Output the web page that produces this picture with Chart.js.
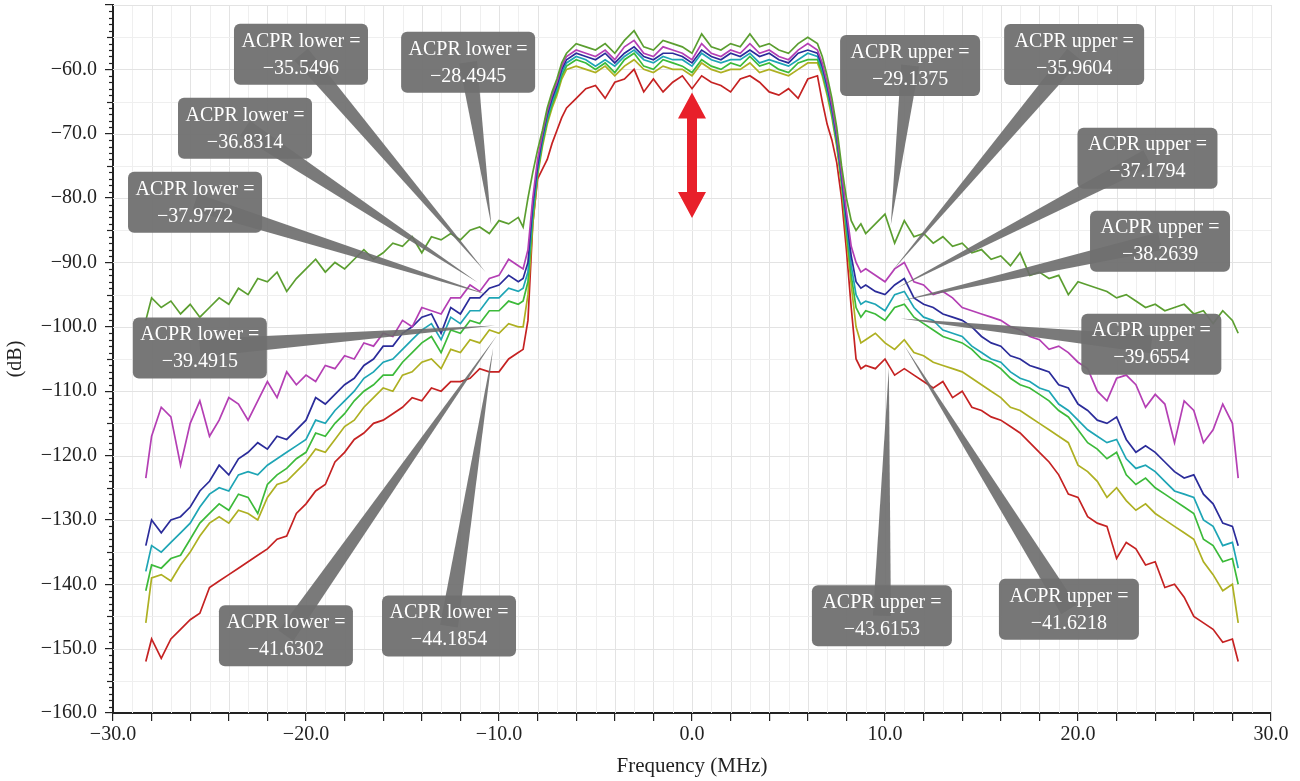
<!DOCTYPE html>
<html>
<head>
<meta charset="utf-8">
<script src="https://cdn.jsdelivr.net/npm/chart.js@4.4.0/dist/chart.umd.min.js"></script>
<style>
  html, body { margin: 0; padding: 0; background: #fff; }
  #wrap { width: 1300px; height: 781px; }
</style>
</head>
<body>
<div id="wrap"><canvas id="acpr" width="1300" height="781"></canvas></div>
<script>
// frequency points (MHz)
var freq = [
  -28.3, -28, -27.5, -27, -26.5, -26, -25.5, -25, -24.5, -24, -23.5, -23, -22.5, -22, -21.5, -21, -20.5, -20, -19.5, -19,
  -18.5, -18, -17.5, -17, -16.5, -16, -15.5, -15, -14.5, -14, -13.5, -13, -12.5, -12, -11.5, -11, -10.5, -10, -9.5, -9,
  -8.75, -8.5,
  -8.25, -8, -7.75, -7.5, -7.25, -7, -6.75, -6.5,
  -6, -5.5, -5, -4.5, -4, -3.5, -3, -2.5, -2, -1.5, -1, -0.5, 0, 0.5, 1, 1.5, 2, 2.5, 3, 3.5, 4, 4.5, 5, 5.5, 6,
  6.5, 6.75, 7, 7.25, 7.5, 7.75, 8, 8.25, 8.5, 8.75,
  9, 9.5, 10, 10.5, 11, 11.5, 12, 12.5, 13, 13.5, 14, 14.5, 15, 15.5, 16, 16.5, 17, 17.5, 18, 18.5,
  19, 19.5, 20, 20.5, 21, 21.5, 22, 22.5, 23, 23.5, 24, 24.5, 25, 25.5, 26, 26.5, 27, 27.5, 28, 28.3
];

// spectra (dB), top to bottom
var greenTop = [
  -99, -95.5, -97, -96, -98, -96.5, -98.5, -97, -95.5, -96.5, -94, -95, -92.5, -93, -91.5, -94.5, -92.5, -91, -89.5, -91.5,
  -90, -91, -89.5, -88, -89.5, -88.5, -87, -87.5, -86, -88.5, -86, -86.5, -85.5, -86.5, -85, -84.5, -85.5, -83.5, -84, -83,
  -84.5, -80,
  -76, -72.5, -69.5, -66, -63.5, -61.5, -59, -57.5,
  -56, -56.5, -57, -56, -57.5, -55.5, -54, -56.5, -57, -55.5, -56, -56.5, -57.5, -54.5, -56.5, -57, -56, -56.5, -54.5, -56.5, -56, -57, -57.5, -56, -55,
  -56, -58, -61, -64.5, -69, -75, -80, -83.5, -85, -84,
  -85.5, -84, -82.5, -87, -83.5, -86, -85.5, -87, -86, -87.5, -87, -88.5, -88, -89.5, -89, -90.5, -88.5, -92, -91.5, -92.5,
  -92, -95, -93, -93.5, -94, -94.5, -95.5, -95, -96, -97, -96.5, -97.5, -97, -96.5, -98, -97.5, -99.5, -97.5, -99, -101
];
var magenta = [
  -123.5, -117, -112.5, -114, -121.5, -115, -111.5, -117, -114.5, -111, -112, -114.5, -111.5, -108.5, -111, -107, -109, -107.5, -108.5, -106,
  -106.5, -104.5, -105, -102.5, -103, -101, -101.5, -99, -100, -97, -97.5, -98, -95.5, -95.5, -93.5, -94.5, -92.5, -92, -89.5, -90.5,
  -91, -88,
  -80, -74, -70, -66.5, -64, -62, -59.5, -58,
  -57, -57.5, -58, -57, -58.5, -56.5, -55.5, -57.5, -58, -56.5, -57, -57.5, -58.5, -56, -57.5, -58, -57, -57.5, -56, -57.5, -57, -58, -58.5, -57, -56,
  -57, -59, -62, -65.5, -70, -76, -82, -87.5, -90, -91.5,
  -91, -92, -93, -91, -90, -93, -93.5, -95, -94.5, -95.5, -97, -97.5, -98, -98.5, -99, -100, -100.5, -101.5, -102, -103.5,
  -103, -104, -105.5, -106.5, -110, -111.5, -108, -107.5, -109, -112.5, -110.5, -112, -118, -111.5, -113, -118, -116, -112, -115, -123.5
];
var blue = [
  -134, -130, -132, -130, -129.5, -128, -125.5, -124, -121.5, -123, -120.5, -119.5, -118, -119, -117, -117.5, -116, -114.5, -111, -112,
  -110.5, -109, -108, -106, -105, -103, -103, -101, -100, -98.5, -98, -101, -97, -98, -95.5, -95.5, -94, -93.5, -92, -93,
  -92.5, -90,
  -81, -75, -70.5, -67, -64.5, -62.5, -60, -58.5,
  -57.5, -58, -58.5, -57.5, -59, -57.5, -56.5, -58, -58.5, -57.5, -57.5, -58, -59, -57, -58, -58.5, -57.5, -58, -57, -58, -57.5, -58.5, -59, -57.5, -57,
  -57.5, -59.5, -62.5, -66, -70.5, -76.5, -83, -89, -93, -94,
  -93.5, -94.5, -95, -93.5, -92.5, -95.5, -96.5, -97, -98, -98.5, -99, -100, -101.5, -102.5, -103, -104.5, -105, -106, -106.5, -107,
  -109, -109.5, -112, -113, -114.5, -115, -114, -117.5, -119.5, -118.5, -119.5, -121, -122.5, -123.5, -123, -126, -127.5, -130.5, -131, -134
];
var cyan = [
  -138, -134, -135, -133.5, -132, -130.5, -128, -126, -125, -125.5, -123, -122.5, -123, -121.5, -120.5, -119.5, -118.5, -117.5, -114.5, -115,
  -113, -111.5, -110, -108, -107, -105.5, -105, -103.5, -102, -100.5, -99.5, -102, -98.5, -99.5, -97.5, -97.5, -95.5, -95.5, -94, -94.5,
  -94, -91.5,
  -82, -75.5, -71, -67.5, -65, -63, -60.5, -59,
  -58, -58.5, -59.5, -58.5, -59.5, -58, -57, -58.5, -59, -58, -58.5, -58.5, -59.5, -57.5, -58.5, -59, -58.5, -58.5, -57.5, -59, -58.5, -59, -59.5, -58.5, -57.5,
  -58, -60, -63, -66.5, -71, -77, -84, -90.5, -95, -96.5,
  -96, -96.5, -97.5, -95, -94.5, -97, -98.5, -99, -100.5, -101, -101.5, -103, -104, -105, -105.5, -107, -108, -108.5, -109.5, -110,
  -112, -113, -114.5, -116, -117, -118, -117.5, -120.5, -122, -121.5, -122.5, -124, -125.5, -126, -126.5, -130, -131, -134, -133.5, -137.5
];
var green = [
  -141, -137, -137.5, -136, -135.5, -133, -130.5, -129, -127.5, -128.5, -126, -126.5, -129, -124.5, -123, -122, -120.5, -119.5, -116.5, -117,
  -115, -113.5, -111.5, -110, -109, -107.5, -107.5, -105.5, -104, -102.5, -101.5, -104, -100.5, -101, -99, -99.5, -97.5, -97.5, -96, -96.5,
  -96, -93,
  -83, -76, -71.5, -68, -65.5, -63.5, -61, -59.5,
  -58.5, -59, -60, -59, -60.5, -58.5, -57.5, -59.5, -60, -58.5, -59, -59.5, -60.5, -58.5, -59.5, -60, -59, -59.5, -58, -59.5, -59, -60, -60.5, -59, -58.5,
  -58.5, -60.5, -63.5, -67, -71.5, -77.5, -85, -92, -97, -98.5,
  -97.5, -98, -99, -97, -96.5, -98.5, -99.5, -100.5, -101.5, -102, -102.5, -103.5, -105, -105.5, -106.5, -108, -109, -109.5, -110.5, -111.5,
  -113, -114, -116, -118, -119, -120.5, -119.5, -123, -124.5, -123.5, -125, -126, -127, -128, -129, -133, -134, -136.5, -136, -140
];
var yellow = [
  -146, -139, -138.5, -139.5, -137, -135, -132.5, -130.5, -129.5, -130.5, -128.5, -129, -130, -126.5, -124.5, -124, -122.5, -121, -119, -119.5,
  -117.5, -115.5, -114.5, -112.5, -111, -109.5, -110, -107.5, -107, -105.5, -105, -106.5, -103.5, -104, -102, -102.5, -100.5, -101, -99.5, -100,
  -100, -95,
  -84, -76.5, -72, -68.5, -66, -64, -61.5, -60,
  -59.5, -60, -60.5, -59.5, -61, -59.5, -58.5, -60, -60.5, -59.5, -60, -60, -61, -59, -60, -60.5, -60, -60, -59, -60.5, -60, -60.5, -61, -60, -59,
  -59, -61, -64, -67.5, -72, -78, -86, -93.5, -100, -102.5,
  -102, -101, -102.5, -103.5, -102, -104, -104.5, -105.5, -106, -106.5, -107, -108, -109, -110, -111, -112.5, -113, -114, -115, -116,
  -117, -118, -121.5, -122.5, -124, -126.5, -125, -127, -128.5, -127.5, -129, -130, -131, -132, -133, -136.5, -138.5, -141, -140, -146
];
var red = [
  -152, -148.5, -151.5, -148.5, -147, -145.5, -144.5, -140.5, -139.5, -138.5, -137.5, -136.5, -135.5, -134.5, -133, -132.5, -129, -127.5, -125.5, -124.5,
  -121, -119.5, -117.5, -116.5, -115, -114.5, -113.5, -112.5, -111, -111.5, -109.5, -110, -108.5, -108.5, -108, -106.5, -107, -107, -105, -104,
  -103.5, -99,
  -84, -77, -75.5, -74, -71.5, -69.5, -67.5, -66,
  -64.5, -63, -62.5, -64.5, -62, -61.5, -60, -63.5, -61.5, -63.5, -62, -61, -63, -61, -62, -62.5, -63.5, -61.5, -61, -62, -63.5, -64, -63, -64.5, -61.5,
  -61, -65, -68.5, -71, -74.5, -80, -88, -97, -105, -106.5,
  -106, -106.5, -105, -107.5, -106.5, -107.5, -108.5, -109.5, -108.5, -111, -110, -112.5, -113, -114, -114.5, -115.5, -116.5, -118, -119.5, -121,
  -123, -126, -126.5, -129.5, -130.5, -131, -136, -133.5, -134.5, -137, -136.5, -140.5, -140, -142, -145, -146, -147, -149, -148.5, -152
];

var series = [
  { name: 'greenTop', values: greenTop, color: '#5b9e30' },
  { name: 'magenta', values: magenta, color: '#b43fb4' },
  { name: 'blue', values: blue, color: '#2b2c9a' },
  { name: 'cyan', values: cyan, color: '#1ea5b5' },
  { name: 'green', values: green, color: '#3cba3a' },
  { name: 'yellow', values: yellow, color: '#aeb022' },
  { name: 'red', values: red, color: '#c52222' }
];

// ACPR callouts: box centre and the point on the trace it points at (MHz, dB)
var notes = [
  { t: 'ACPR lower =', v: '\u221235.5496', bx: -20.26, by: -57.67, tx: -10.7, ty: -91.5 },
  { t: 'ACPR lower =', v: '\u221228.4945', bx: -11.6, by: -58.9, tx: -10.4, ty: -84.2 },
  { t: 'ACPR lower =', v: '\u221236.8314', bx: -23.16, by: -69.16, tx: -11.1, ty: -93.1 },
  { t: 'ACPR lower =', v: '\u221237.9772', bx: -25.75, by: -80.65, tx: -10.5, ty: -95.1 },
  { t: 'ACPR lower =', v: '\u221239.4915', bx: -25.5, by: -103.3, tx: -10.2, ty: -99.8 },
  { t: 'ACPR lower =', v: '\u221241.6302', bx: -21.04, by: -148.0, tx: -10.1, ty: -101.3 },
  { t: 'ACPR lower =', v: '\u221244.1854', bx: -12.59, by: -146.5, tx: -10.3, ty: -103.3 },
  { t: 'ACPR upper =', v: '\u221229.1375', bx: 11.3, by: -59.4, tx: 10.3, ty: -84.2 },
  { t: 'ACPR upper =', v: '\u221235.9604', bx: 19.8, by: -57.7, tx: 10.4, ty: -91.2 },
  { t: 'ACPR upper =', v: '\u221237.1794', bx: 23.6, by: -73.8, tx: 10.6, ty: -94.0 },
  { t: 'ACPR upper =', v: '\u221238.2639', bx: 24.25, by: -86.7, tx: 10.9, ty: -95.9 },
  { t: 'ACPR upper =', v: '\u221239.6554', bx: 23.8, by: -102.7, tx: 10.8, ty: -98.7 },
  { t: 'ACPR upper =', v: '\u221243.6153', bx: 9.84, by: -144.9, tx: 10.2, ty: -106.4 },
  { t: 'ACPR upper =', v: '\u221241.6218', bx: 19.53, by: -143.9, tx: 11.0, ty: -102.9 }
];

var arrowAt = { x: 0, top: -63.6, bottom: -83.1 };

var serif = "'Liberation Serif', 'DejaVu Serif', serif";

function fmt(v) {
  return (v < 0 ? '\u2212' : '') + Math.abs(v).toFixed(1);
}

var overlay = {
  id: 'overlay',
  beforeDatasetsDraw: function (chart) {
    var ctx = chart.ctx, a = chart.chartArea;
    var xs = chart.scales.x, ys = chart.scales.y;
    ctx.save();
    ctx.lineWidth = 1;
    for (var f = -29; f <= 30; f++) {
      var px = Math.round(xs.getPixelForValue(f)) + 0.5;
      ctx.strokeStyle = (f % 2 === 0) ? '#e3e3e3' : '#efefef';
      ctx.beginPath(); ctx.moveTo(px, a.top); ctx.lineTo(px, a.bottom); ctx.stroke();
    }
    for (var v = -155; v <= -50; v += 5) {
      var py = Math.round(ys.getPixelForValue(v)) + 0.5;
      ctx.strokeStyle = (v % 10 === 0) ? '#e3e3e3' : '#efefef';
      ctx.beginPath(); ctx.moveTo(a.left, py); ctx.lineTo(a.right, py); ctx.stroke();
    }
    ctx.restore();
  },
  afterDraw: function (chart) {
    var ctx = chart.ctx, a = chart.chartArea;
    var xs = chart.scales.x, ys = chart.scales.y;
    ctx.save();
    // minor ticks on the dB axis
    ctx.strokeStyle = '#222';
    ctx.lineWidth = 1.2;
    for (var v = -159; v <= -51; v++) {
      if (v % 10 === 0) continue;
      var py = Math.round(ys.getPixelForValue(v)) + 0.5;
      var len = (v % 5 === 0) ? 6 : 4;
      ctx.beginPath(); ctx.moveTo(a.left, py); ctx.lineTo(a.left - len, py); ctx.stroke();
    }

    // callout wedges
    var gray = 'rgba(108,108,108,0.9)';
    notes.forEach(function (n) {
      var bx = xs.getPixelForValue(n.bx), by = ys.getPixelForValue(n.by);
      var tx = xs.getPixelForValue(n.tx), ty = ys.getPixelForValue(n.ty);
      var dx = tx - bx, dy = ty - by, d = Math.sqrt(dx * dx + dy * dy);
      var nx = -dy / d * 9, ny = dx / d * 9;
      ctx.fillStyle = gray;
      ctx.beginPath();
      ctx.moveTo(bx + nx, by + ny);
      ctx.lineTo(tx, ty);
      ctx.lineTo(bx - nx, by - ny);
      ctx.closePath();
      ctx.fill();
    });
    // boxes
    notes.forEach(function (n) {
      var bx = xs.getPixelForValue(n.bx), by = ys.getPixelForValue(n.by);
      var w = n.t.indexOf('upper') >= 0 ? 140 : 134, h = 61;
      ctx.fillStyle = 'rgba(112,112,112,0.95)';
      ctx.beginPath();
      ctx.roundRect(bx - w / 2, by - h / 2, w, h, 6);
      ctx.fill();
      ctx.fillStyle = '#fff';
      ctx.font = '20px ' + serif;
      ctx.textAlign = 'center';
      ctx.textBaseline = 'middle';
      ctx.fillText(n.t, bx, by - 13);
      ctx.fillText(n.v, bx, by + 14);
    });

    // red double arrow
    var ax = xs.getPixelForValue(arrowAt.x);
    var at = ys.getPixelForValue(arrowAt.top), ab = ys.getPixelForValue(arrowAt.bottom);
    var hw = 14, hl = 26, sw = 5;
    ctx.fillStyle = '#e8202a';
    ctx.beginPath();
    ctx.moveTo(ax, at);
    ctx.lineTo(ax + hw, at + hl);
    ctx.lineTo(ax + sw, at + hl);
    ctx.lineTo(ax + sw, ab - hl);
    ctx.lineTo(ax + hw, ab - hl);
    ctx.lineTo(ax, ab);
    ctx.lineTo(ax - hw, ab - hl);
    ctx.lineTo(ax - sw, ab - hl);
    ctx.lineTo(ax - sw, at + hl);
    ctx.lineTo(ax - hw, at + hl);
    ctx.closePath();
    ctx.fill();
    ctx.restore();
  }
};

new Chart(document.getElementById('acpr'), {
  type: 'line',
  data: {
    datasets: series.map(function (s) {
      return {
        label: s.name,
        data: freq.map(function (f, i) { return { x: f, y: s.values[i] }; }),
        borderColor: s.color,
        borderWidth: 1.7,
        pointRadius: 0,
        tension: 0,
        fill: false
      };
    })
  },
  options: {
    responsive: false,
    animation: false,
    devicePixelRatio: 1,
    layout: { padding: { top: 5, right: 29, left: 0, bottom: 0 } },
    plugins: { legend: { display: false }, tooltip: { enabled: false } },
    scales: {
      x: {
        type: 'linear',
        min: -30,
        max: 30,
        afterFit: function (s) { s.height = 68; s.paddingLeft = 0; s.paddingRight = 0; },
        ticks: {
          stepSize: 2,
          autoSkip: false,
          maxRotation: 0,
          padding: 2,
          color: '#222',
          font: { family: serif, size: 20 },
          callback: function (v) { return v % 10 === 0 ? fmt(v) : ''; }
        },
        grid: { drawOnChartArea: false, tickLength: 8, color: '#222', lineWidth: 1.2 },
        border: { color: '#222', width: 2 },
        title: { display: true, text: 'Frequency (MHz)', color: '#222', font: { family: serif, size: 21 }, padding: { top: 2, bottom: 2 } }
      },
      y: {
        type: 'linear',
        min: -160,
        max: -50,
        afterFit: function (s) { s.width = 113; s.paddingTop = 0; s.paddingBottom = 0; },
        ticks: {
          stepSize: 10,
          padding: 8,
          color: '#222',
          font: { family: serif, size: 20 },
          callback: function (v) { return v <= -60 ? fmt(v) : ''; }
        },
        grid: { drawOnChartArea: false, tickLength: 8, color: '#222', lineWidth: 1.2 },
        border: { color: '#222', width: 2 },
        title: { display: true, text: '(dB)', color: '#222', font: { family: serif, size: 20 }, padding: { top: 4, bottom: 4 } }
      }
    }
  },
  plugins: [overlay]
});
</script>
</body>
</html>
